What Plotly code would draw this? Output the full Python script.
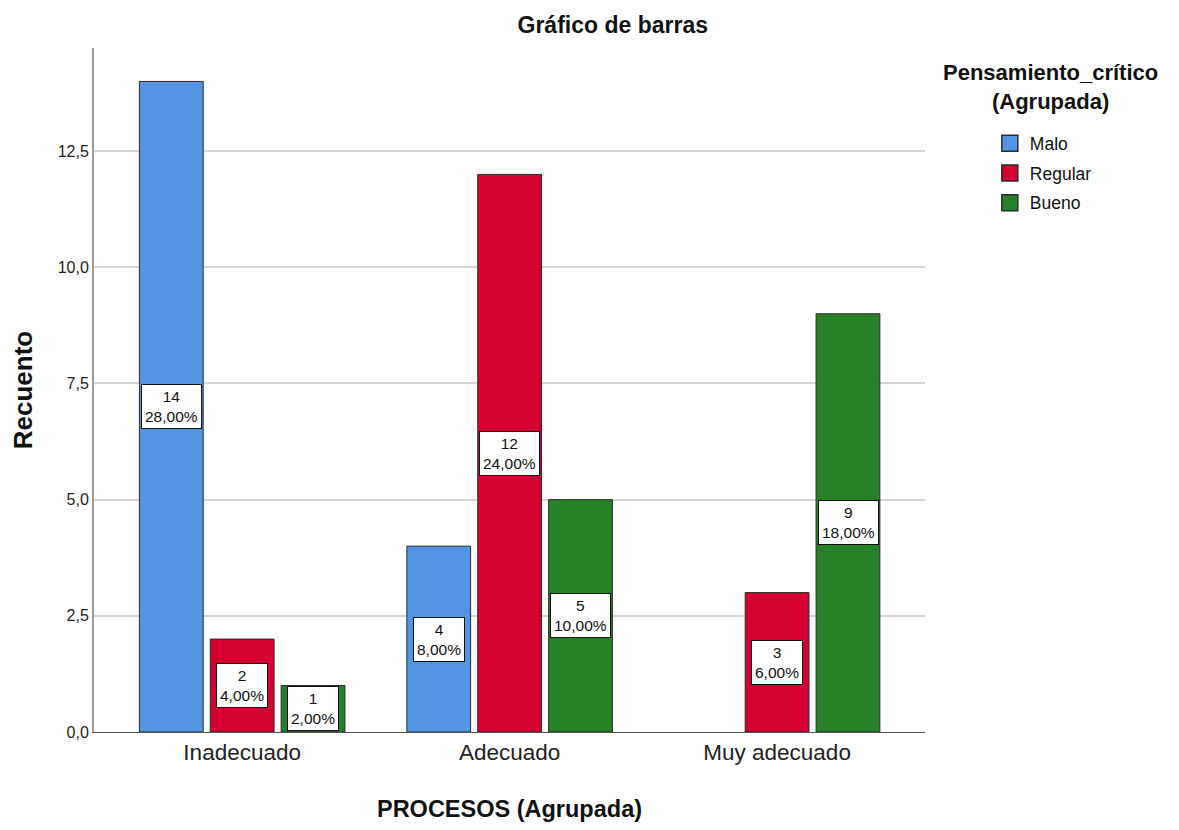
import plotly.graph_objects as go

categorias = ["Inadecuado", "Adecuado", "Muy adecuado"]
series = ["Malo", "Regular", "Bueno"]
recuentos = {
    "Malo": [14, 4, None],
    "Regular": [2, 12, 3],
    "Bueno": [1, 5, 9],
}
porcentajes = {
    "Malo": ["28,00%", "8,00%", None],
    "Regular": ["4,00%", "24,00%", "6,00%"],
    "Bueno": ["2,00%", "10,00%", "18,00%"],
}
colores = {"Malo": "#5294E2", "Regular": "#D50032", "Bueno": "#278227"}

FONT = "Liberation Sans, Arial, sans-serif"

fig = go.Figure()
for s in series:
    fig.add_trace(go.Bar(
        x=categorias, y=recuentos[s], name=s, showlegend=False,
        marker=dict(color=colores[s], line=dict(color="#2A2A2A", width=1)),
    ))
# entradas de leyenda con cuadros más grandes (estilo SPSS)
for s in series:
    fig.add_trace(go.Scatter(
        x=[None], y=[None], mode="markers", name=s, legendgroup=s,
        marker=dict(symbol="square", size=16, color=colores[s],
                    line=dict(color="#2A2A2A", width=1.5)),
    ))

# etiquetas en caja blanca, centradas a media altura de cada barra
slot_px = 71
for i, s in enumerate(series):
    for c, v, p in zip(categorias, recuentos[s], porcentajes[s]):
        if v is None:
            continue
        fig.add_annotation(
            x=c, y=v / 2, text=f"{v}<br>{p}", showarrow=False,
            xshift=(i - 1) * slot_px,
            font=dict(family=FONT, size=15.5, color="#111111"),
            bgcolor="white", bordercolor="#111111", borderwidth=1, borderpad=3,
        )

fig.add_annotation(
    xref="paper", yref="paper", x=1.151, y=0.943, xanchor="center", yanchor="middle",
    text="<b>Pensamiento_crítico<br>(Agrupada)</b>", showarrow=False,
    font=dict(family=FONT, size=22, color="#111111"),
)

fig.update_layout(
    width=1163, height=814,
    barmode="group", bargap=0.205, bargroupgap=0.1,
    paper_bgcolor="white", plot_bgcolor="white",
    separators=",.",
    margin=dict(l=86, r=246, t=40, b=90),
    font=dict(family=FONT, color="#111111"),
    title=dict(text="<b>Gráfico de barras</b>", x=0.52, xanchor="center",
               y=0.979, yanchor="middle", font=dict(size=23)),
    legend=dict(x=1.078, y=0.887, xanchor="left", yanchor="top",
                font=dict(size=17.5, family=FONT), tracegroupgap=4,
                itemsizing="trace", bgcolor="rgba(0,0,0,0)"),
    showlegend=True,
)
fig.update_xaxes(
    range=[-0.554, 2.553], showgrid=False, showline=True, linecolor="#555555",
    linewidth=1, ticks="", tickfont=dict(size=22.5, family=FONT, color="#222222"),
    title=dict(text="<b>PROCESOS (Agrupada)</b>", font=dict(size=23.5), standoff=38),
    automargin=False,
)
fig.update_yaxes(
    range=[0, 14.72], dtick=2.5, tickformat=".1f", showgrid=True,
    gridcolor="#D4D4D4", gridwidth=1.5, zeroline=False, showline=True,
    linecolor="#9A9A9A", linewidth=2, ticks="",
    tickfont=dict(size=16, family=FONT, color="#222222"),
    title=dict(text="<b>Recuento</b>", font=dict(size=26), standoff=20),
    automargin=False,
)

fig.write_html("out.html")
